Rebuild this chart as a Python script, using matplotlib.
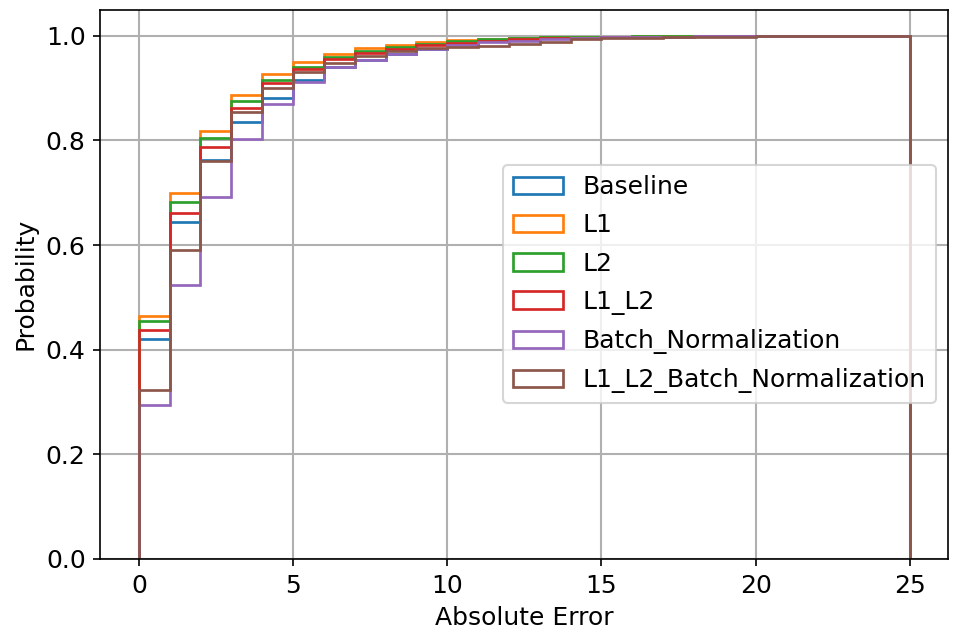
import numpy as np
import matplotlib
matplotlib.use("Agg")
from matplotlib import pyplot as plt

# bin edges, width 1 from 0 to 25
edges = np.arange(0, 26)

labels = ["Baseline", "L1", "L2", "L1_L2", "Batch_Normalization", "L1_L2_Batch_Normalization"]

# cumulative probability per bin
baseline = [0.420, 0.645, 0.763, 0.835, 0.882, 0.915, 0.940, 0.954, 0.965, 0.974, 0.985, 0.990, 0.993, 0.995,
            0.996, 0.997, 0.998, 0.998, 0.999, 0.999, 0.999, 1.000, 1.000, 1.000, 1.000]
l1 = [0.465, 0.700, 0.819, 0.887, 0.927, 0.950, 0.965, 0.976, 0.983, 0.989, 0.992, 0.994, 0.996, 0.997,
      0.998, 0.998, 0.999, 0.999, 0.999, 1.000, 1.000, 1.000, 1.000, 1.000, 1.000]
l2 = [0.455, 0.682, 0.805, 0.875, 0.915, 0.941, 0.960, 0.971, 0.978, 0.984, 0.990, 0.993, 0.996, 0.997,
      0.998, 0.998, 0.999, 0.999, 0.999, 0.999, 1.000, 1.000, 1.000, 1.000, 1.000]
l1_l2 = [0.437, 0.662, 0.788, 0.862, 0.909, 0.937, 0.955, 0.967, 0.975, 0.982, 0.986, 0.990, 0.993, 0.995,
         0.996, 0.997, 0.998, 0.998, 0.999, 0.999, 0.999, 1.000, 1.000, 1.000, 1.000]
batch_norm = [0.295, 0.523, 0.691, 0.802, 0.870, 0.911, 0.940, 0.954, 0.966, 0.975, 0.983, 0.988, 0.990, 0.993,
              0.996, 0.997, 0.998, 0.998, 0.999, 0.999, 0.999, 0.999, 1.000, 1.000, 1.000]
l1_l2_bn = [0.323, 0.590, 0.760, 0.854, 0.901, 0.930, 0.948, 0.962, 0.971, 0.976, 0.978, 0.981, 0.984, 0.989,
            0.993, 0.995, 0.996, 0.997, 0.998, 0.998, 0.999, 0.999, 0.999, 1.000, 1.000]

series = [baseline, l1, l2, l1_l2, batch_norm, l1_l2_bn]

plt.rcParams['font.size'] = 12

fig, ax = plt.subplots(figsize=(955 / 150, 644 / 150), dpi=150)
fig.subplots_adjust(left=0.105, right=0.993, top=0.985, bottom=0.132)

# step histogram, each bin weighted by its cumulative value
for vals, lab in zip(series, labels):
	ax.hist(edges[:-1], bins=edges, weights=vals, histtype='step', label=lab, linewidth=1.3)

ax.set_xlabel("Absolute Error")
ax.set_ylabel("Probability")
# grid stays above the patches, as in the default zorder
ax.grid(True, color="#b0b0b0", linewidth=1.0)
ax.legend(loc="center right", labelspacing=0.57)

fig.savefig("out.png", dpi=150)
